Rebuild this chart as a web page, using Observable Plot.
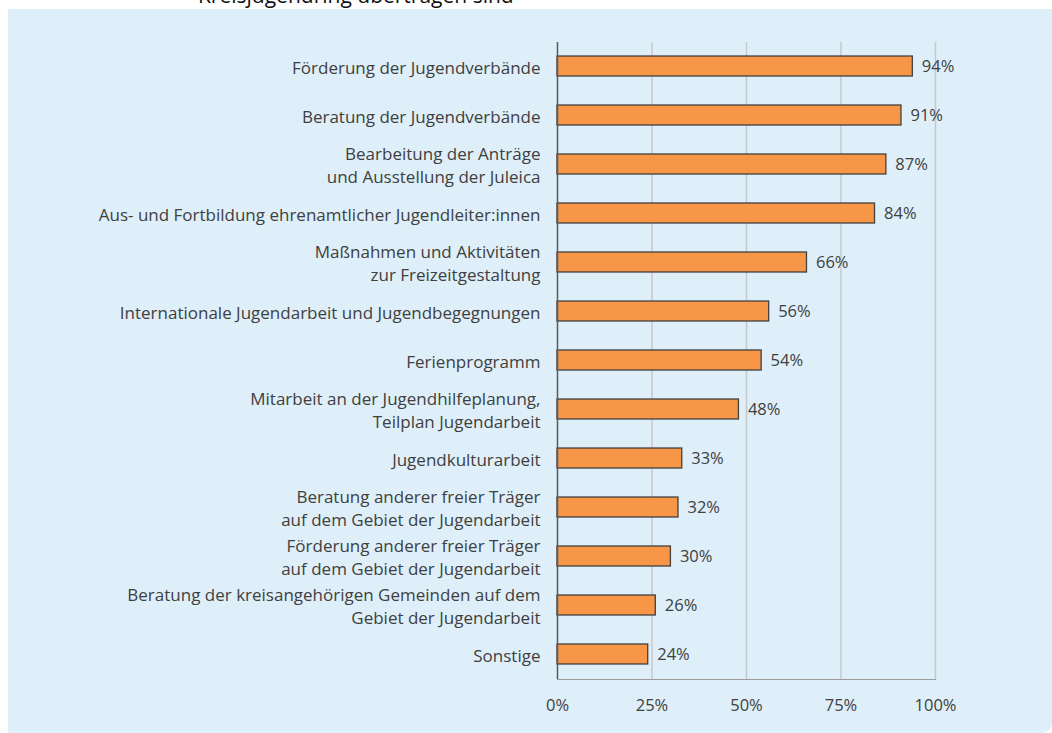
<!DOCTYPE html>
<html>
<head>
<meta charset="utf-8">
<script src="https://cdn.jsdelivr.net/npm/d3@7"></script>
<script src="https://cdn.jsdelivr.net/npm/@observablehq/plot@0.6"></script>
<style>
  html, body { margin: 0; padding: 0; background: #ffffff; }
  #wrap { position: relative; width: 1052px; height: 733px; overflow: hidden; background: #ffffff; }
  #panel { position: absolute; left: 8px; top: 9px; right: 0; bottom: 0; background: #DEEFF9; border-bottom-right-radius: 10px; }
  #title { position: absolute; left: 198px; top: -15px; font-family: "Open Sans", sans-serif; font-size: 21px; line-height: 21px; color: #111; white-space: nowrap; }
  #chart { position: absolute; left: 0; top: 0; }
</style>
</head>
<body>
<div id="wrap">
  <div id="panel"></div>
  <div id="title">Kreisjugendring übertragen sind</div>
  <div id="chart"></div>
</div>
<script>
const categories = [
  "Förderung der Jugendverbände",
  "Beratung der Jugendverbände",
  "Bearbeitung der Anträge\nund Ausstellung der Juleica",
  "Aus- und Fortbildung ehrenamtlicher Jugendleiter:innen",
  "Maßnahmen und Aktivitäten\nzur Freizeitgestaltung",
  "Internationale Jugendarbeit und Jugendbegegnungen",
  "Ferienprogramm",
  "Mitarbeit an der Jugendhilfeplanung,\nTeilplan Jugendarbeit",
  "Jugendkulturarbeit",
  "Beratung anderer freier Träger\nauf dem Gebiet der Jugendarbeit",
  "Förderung anderer freier Träger\nauf dem Gebiet der Jugendarbeit",
  "Beratung der kreisangehörigen Gemeinden auf dem\nGebiet der Jugendarbeit",
  "Sonstige"
];
const values = [0.94, 0.91, 0.87, 0.84, 0.66, 0.56, 0.54, 0.48, 0.33, 0.32, 0.30, 0.26, 0.24];
const xTicks = [0, 0.25, 0.5, 0.75, 1];
const gridTicks = [0.25, 0.5, 0.75, 1];

const data = categories.map((c, i) => ({category: c, value: values[i]}));
const pct = d3.format(".0%");
const textColor = "#404040";
const font = "'Open Sans', sans-serif";

const chart = Plot.plot({
  width: 1052,
  height: 733,
  marginLeft: 557,
  marginRight: 117,
  marginTop: 42,
  marginBottom: 54,
  style: {background: "transparent", fontFamily: font, color: textColor},
  x: {domain: [0, 1], label: null},
  y: {domain: categories, paddingInner: 0.59, paddingOuter: 0.295, label: null},
  marks: [
    Plot.ruleX(gridTicks, {stroke: "#c8c8c8", strokeWidth: 1.5}),
    Plot.frame({anchor: "bottom", stroke: "#9a9a9a", strokeWidth: 1.2}),
    Plot.barX(data, {x: "value", y: "category", fill: "#F79646", stroke: "#404040", strokeWidth: 1.3}),
    Plot.ruleX([0], {stroke: "#595959", strokeWidth: 1.5}),
    Plot.text(data, {x: "value", y: "category", text: d => pct(d.value), dx: 9, textAnchor: "start", fill: textColor, fontSize: 16.5}),
    Plot.text(data, {x: 0, y: "category", text: "category", dx: -17, textAnchor: "end", lineHeight: 1.35, fill: textColor, fontSize: 17}),
    Plot.axisX(xTicks, {tickSize: 0, tickPadding: 20, tickFormat: pct, fontSize: 16.5, fill: textColor, label: null}),
    Plot.axisY({ticks: [], tickSize: 0, label: null})
  ]
});
document.getElementById("chart").appendChild(chart);
</script>
</body>
</html>
